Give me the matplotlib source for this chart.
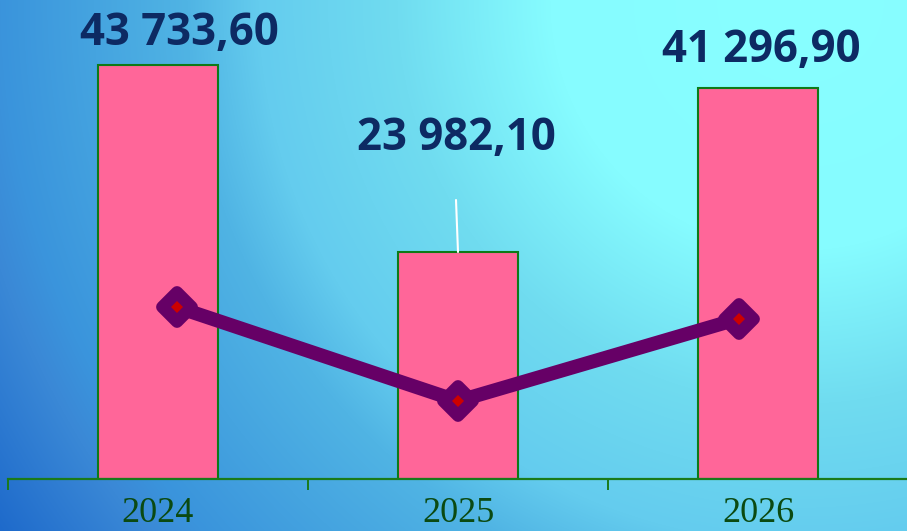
import numpy as np
import matplotlib
matplotlib.use("Agg")
import matplotlib.pyplot as plt
from matplotlib.colors import to_rgb
from matplotlib.markers import MarkerStyle

# ---- data ----
years = ["2024", "2025", "2026"]
values = [43733.60, 23982.10, 41296.90]
labels = ["43 733,60", "23 982,10", "41 296,90"]

W, H, DPI = 907, 531, 100
fig = plt.figure(figsize=(W / DPI, H / DPI), dpi=DPI)

# ---- radial gradient background ----
bg = fig.add_axes([0, 0, 1, 1], zorder=-10)
yy, xx = np.mgrid[0:H, 0:W]
d = np.hypot(xx - 800, yy - 0)
stops_d = [0, 250, 403, 542, 613, 800, 844, 960]
stops_c = ["#88FFFF", "#86FCFF", "#70DCF0", "#64CCEE", "#50B4E4",
           "#3A94DC", "#3A88D6", "#1E6ACB"]
rgb = np.array([to_rgb(c) for c in stops_c])
img = np.zeros((H, W, 3))
for k in range(3):
    img[..., k] = np.interp(d, stops_d, rgb[:, k])
bg.imshow(img, aspect="auto", extent=[0, W, H, 0])
bg.axis("off")

# ---- main axes ----
pos = [8 / W, (H - 479) / H, 900 / W, 479 / H]
ax = fig.add_axes(pos)
ax.patch.set_alpha(0)
x = np.arange(len(years))
ax.bar(x, values, width=0.4, color="#FF6699", edgecolor="#0E7A18",
       linewidth=1.5, zorder=2)
ax.set_xlim(-0.5, 2.5)
ax.set_ylim(0, 50600)
for s in ["left", "right", "top"]:
    ax.spines[s].set_visible(False)
ax.spines["bottom"].set_color("#1A7A1A")
ax.spines["bottom"].set_linewidth(1.6)
ax.set_yticks([])
ax.set_xticks([-0.5, 0.5, 1.5, 2.5])
ax.set_xticklabels([])
ax.tick_params(axis="x", which="major", length=8, width=1.4, color="#1A7A1A",
               direction="out")
ax.set_xticks(x, minor=True)
ax.set_xticklabels(years, minor=True, fontfamily="Liberation Serif",
                   fontsize=26, color="#0B4A12")
ax.tick_params(axis="x", which="minor", length=0, pad=13)

# ---- data labels ----
offsets = [(21, 20), (-2, 102), (3, 26)]
for xi, v, lab, (dx, dy) in zip(x, values, labels, offsets):
    ax.annotate(lab, xy=(xi, v), xytext=(dx, dy), textcoords="offset pixels",
                ha="center", va="baseline", fontfamily="Open Sans",
                fontweight="bold", fontsize=31.5, color="#0D2A63", zorder=5)
# leader line for the middle label
ax.annotate("", xy=(x[1], values[1]), xytext=(-2, 52), textcoords="offset pixels",
            arrowprops=dict(arrowstyle="-", color="white", lw=1.5,
                            shrinkA=0, shrinkB=0), zorder=5)

# ---- line on secondary axes ----
ax2 = fig.add_axes(pos)
ax2.patch.set_alpha(0)
ax2.set_xlim(-0.6, 2.6)
ax2.set_ylim(7590, 108240)
ax2.axis("off")
ax2.plot(x, values, color="#660066", linewidth=10, solid_capstyle="round",
         zorder=3)
big = MarkerStyle("D", joinstyle="round")
ax2.plot(x, values, linestyle="none", marker=big, markersize=15.5,
         markerfacecolor="#660066", markeredgecolor="#660066",
         markeredgewidth=8.5, zorder=4)
ax2.plot(x, values, linestyle="none", marker="D", markersize=6.6,
         markerfacecolor="#CC0000", markeredgewidth=0, zorder=5)

fig.savefig("out.png", dpi=DPI)
